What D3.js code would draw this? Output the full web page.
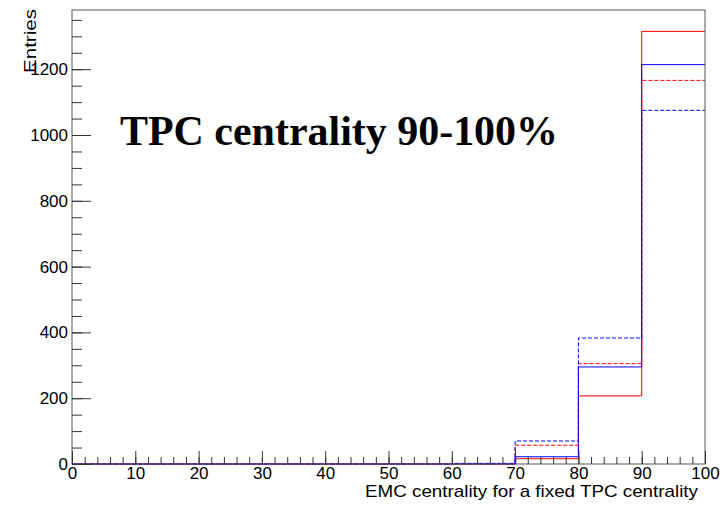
<!DOCTYPE html>
<html>
<head>
<meta charset="utf-8">
<script src="https://cdn.jsdelivr.net/npm/d3@7"></script>
<style>
  body { margin: 0; background: #fff; }
  svg { display: block; }
</style>
</head>
<body>
<div class="chart"></div>
<script>
// bin edges (EMC centrality, %)
const binEdges = [0, 10, 20, 30, 40, 50, 60, 70, 80, 90, 100]
const xTicks = [0, 10, 20, 30, 40, 50, 60, 70, 80, 90, 100]
const yTicks = [0, 200, 400, 600, 800, 1000, 1200]

// entries per bin
const redSolid   = [0, 0, 0, 0, 0, 0, 0, 16, 207, 1315]
const blueSolid  = [0, 0, 0, 0, 0, 0, 0, 22, 295, 1214]
const redDashed  = [0, 0, 0, 0, 0, 0, 1, 57, 305, 1166]
const blueDashed = [0, 0, 0, 0, 0, 0, 2, 70, 383, 1075]

const width = 723
const height = 505
const padL = 72, padR = 705, padT = 10, padB = 464

const svg = d3.select(".chart").append("svg")
  .attr("width", width)
  .attr("height", height)

const x = d3.scaleLinear().domain([0, 100]).range([padL, padR])
const y = d3.scaleLinear().domain([0, 1380]).range([padB, padT])

// step outline like ROOT's hist
function stepPoints(vals) {
  const pts = []
  vals.forEach(function (v, i) {
    pts.push([binEdges[i], v])
    pts.push([binEdges[i + 1], v])
  })
  return pts
}
const line = d3.line()
  .x(function (d) { return x(d[0]) })
  .y(function (d) { return y(d[1]) })

const series = [
  { vals: redSolid, color: "#ff0000", dash: null },
  { vals: blueSolid, color: "#0000ff", dash: null },
  { vals: redDashed, color: "#ff0000", dash: "4,2" },
  { vals: blueDashed, color: "#0000ff", dash: "4,2" }
]

svg.selectAll("path.hist")
  .data(series)
  .enter()
  .append("path")
  .attr("class", "hist")
  .attr("d", function (d) { return line(stepPoints(d.vals)) })
  .attr("fill", "none")
  .attr("stroke", function (d) { return d.color })
  .attr("stroke-width", 1)
  .attr("stroke-dasharray", function (d) { return d.dash })

// frame
svg.append("rect")
  .attr("x", padL)
  .attr("y", padT)
  .attr("width", padR - padL)
  .attr("height", padB - padT)
  .attr("fill", "none")
  .attr("stroke", "#555")
  .attr("stroke-width", 1)

// x axis ticks (major 10, minor 2)
const xAxis = svg.append("g").attr("transform", "translate(0," + padB + ")")
xAxis.append("g").call(d3.axisBottom(x).tickValues(d3.range(0, 101, 2)).tickSize(-7).tickFormat(""))
xAxis.append("g").call(d3.axisBottom(x).tickValues(xTicks).tickSize(-13).tickPadding(3).tickFormat(d3.format("d")))
xAxis.selectAll(".domain").remove()
xAxis.selectAll("line").attr("stroke", "#333")
xAxis.selectAll("text")
  .attr("font-family", "Liberation Sans, Arial, sans-serif")
  .attr("font-size", "17px")
  .attr("fill", "#000")

// y axis ticks (major 200, minor 50)
const yAxis = svg.append("g").attr("transform", "translate(" + padL + ",0)")
yAxis.append("g").call(d3.axisLeft(y).tickValues(d3.range(0, 1351, 50)).tickSize(-10).tickFormat(""))
yAxis.append("g").call(d3.axisLeft(y).tickValues(yTicks).tickSize(-19).tickPadding(4).tickFormat(d3.format("d")))
yAxis.selectAll(".domain").remove()
yAxis.selectAll("line").attr("stroke", "#333")
yAxis.selectAll("text")
  .attr("font-family", "Liberation Sans, Arial, sans-serif")
  .attr("font-size", "17px")
  .attr("fill", "#000")

// axis titles
svg.append("text")
  .attr("x", 698)
  .attr("y", 497)
  .attr("text-anchor", "end")
  .attr("font-family", "Liberation Sans, Arial, sans-serif")
  .attr("font-size", "17px")
  .attr("textLength", 333)
  .attr("lengthAdjust", "spacingAndGlyphs")
  .text("EMC centrality for a fixed TPC centrality")

svg.append("text")
  .attr("transform", "translate(36,9) rotate(-90)")
  .attr("text-anchor", "end")
  .attr("font-family", "Liberation Sans, Arial, sans-serif")
  .attr("font-size", "17px")
  .attr("textLength", 64)
  .attr("lengthAdjust", "spacingAndGlyphs")
  .text("Entries")

// label
svg.append("text")
  .attr("x", 120)
  .attr("y", 145)
  .attr("font-family", "Liberation Serif, Times New Roman, serif")
  .attr("font-weight", "bold")
  .attr("font-size", "43px")
  .attr("textLength", 438)
  .attr("lengthAdjust", "spacingAndGlyphs")
  .text("TPC centrality 90-100%")
</script>
</body>
</html>
